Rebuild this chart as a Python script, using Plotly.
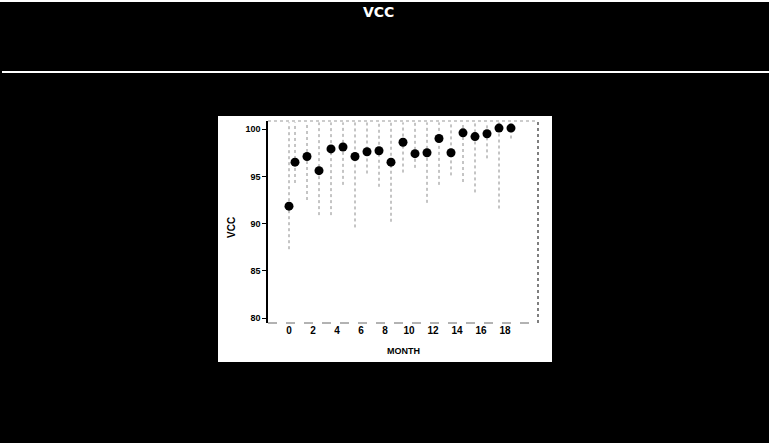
import plotly.graph_objects as go

# Data
MONTH = [0, 0.5, 1.5, 2.5, 3.5, 4.5, 5.5, 6.5, 7.5, 8.5, 9.5,
         10.5, 11.5, 12.5, 13.5, 14.5, 15.5, 16.5, 17.5, 18.5]
VCC_MEAN = [91.85, 96.5, 97.1, 95.6, 97.9, 98.1, 97.1, 97.6, 97.7, 96.5, 98.6,
            97.4, 97.5, 99.0, 97.5, 99.6, 99.2, 99.5, 100.1, 100.1]
VCC_LOW = [87.3, 94.3, 92.5, 90.9, 90.9, 94.1, 89.6, 95.3, 93.9, 90.2, 95.4,
           95.9, 92.2, 94.1, 95.1, 94.4, 93.3, 96.9, 91.6, 99.0]
VCC_HIGH = [100.7] * 20
X_TICKS = [0, 2, 4, 6, 8, 10, 12, 14, 16, 18]
Y_TICKS = [80, 85, 90, 95, 100]

# plot-area pixel geometry
L, R, T, B = 268, 538, 121, 323
W, H = 769, 443
pw, ph = R - L, B - T


def px(x):
    return (x - L) / pw


def py(y):
    return (B - y) / ph


seg_x, seg_y = [], []
for m, lo, hi in zip(MONTH, VCC_LOW, VCC_HIGH):
    seg_x += [m, m, None]
    seg_y += [lo, hi, None]

fig = go.Figure()
fig.add_trace(go.Scatter(x=seg_x, y=seg_y, mode="lines",
                         line=dict(color="#8a8a8a", width=1, dash="dot"),
                         hoverinfo="skip", showlegend=False))
fig.add_trace(go.Scatter(x=MONTH, y=VCC_MEAN, mode="markers",
                         marker=dict(color="black", size=9),
                         showlegend=False))

shapes = [
    # white panel
    dict(type="rect", xref="paper", yref="paper", layer="below",
         x0=px(218), x1=px(552), y0=py(362), y1=py(116),
         fillcolor="white", line=dict(width=0)),
    # dotted frame (top, right, bottom)
    dict(type="line", xref="paper", yref="paper", x0=0, x1=1, y0=1, y1=1,
         line=dict(color="#999", width=1, dash="dot")),
    dict(type="line", xref="paper", yref="paper", x0=1, x1=1, y0=0, y1=1,
         line=dict(color="#555", width=1.5, dash="dot")),
    dict(type="line", xref="paper", yref="paper", x0=0, x1=1, y0=0, y1=0,
         line=dict(color="#666", width=1, dash="dash")),
    # white separator line under title
    dict(type="line", xref="paper", yref="paper", x0=px(2), x1=px(769),
         y0=py(72), y1=py(72), line=dict(color="white", width=2)),
    # thin white line at very top
    dict(type="line", xref="paper", yref="paper", x0=px(0), x1=px(769),
         y0=py(1), y1=py(1), line=dict(color="white", width=2)),
]

annotations = [
    dict(text="VCC", xref="paper", yref="paper", x=px(378), y=py(12),
         showarrow=False, font=dict(color="white", size=14, family="DejaVu Sans", weight="bold"),
         xanchor="center", yanchor="middle"),
    dict(text="VCC", xref="paper", yref="paper", x=px(231), y=py(228),
         showarrow=False, textangle=-90,
         font=dict(color="black", size=10, family="Liberation Sans", weight="bold"),
         xanchor="center", yanchor="middle"),
    dict(text="MONTH", xref="paper", yref="paper", x=px(403), y=py(351),
         showarrow=False,
         font=dict(color="black", size=9, family="Liberation Sans", weight="bold"),
         xanchor="center", yanchor="middle"),
]

fig.update_layout(
    width=W, height=H,
    margin=dict(l=L, r=W - R, t=T, b=H - B, pad=0),
    paper_bgcolor="black", plot_bgcolor="white",
    shapes=shapes, annotations=annotations,
    xaxis=dict(range=[-1.75, 20.75], tickvals=X_TICKS, ticks="", showline=False,
               showgrid=False, zeroline=False,
               tickfont=dict(size=10, color="black", family="Liberation Sans", weight="bold")),
    yaxis=dict(range=[79.5, 100.85], tickvals=Y_TICKS, ticks="outside", ticklen=4,
               tickcolor="black", showline=True, linecolor="black", linewidth=1.5,
               showgrid=False, zeroline=False,
               tickfont=dict(size=9, color="black", family="Liberation Sans", weight="bold")),
)

fig.write_html("out.html", config={"displayModeBar": False},
               post_script="document.body.style.margin='0';document.body.style.background='black';")
